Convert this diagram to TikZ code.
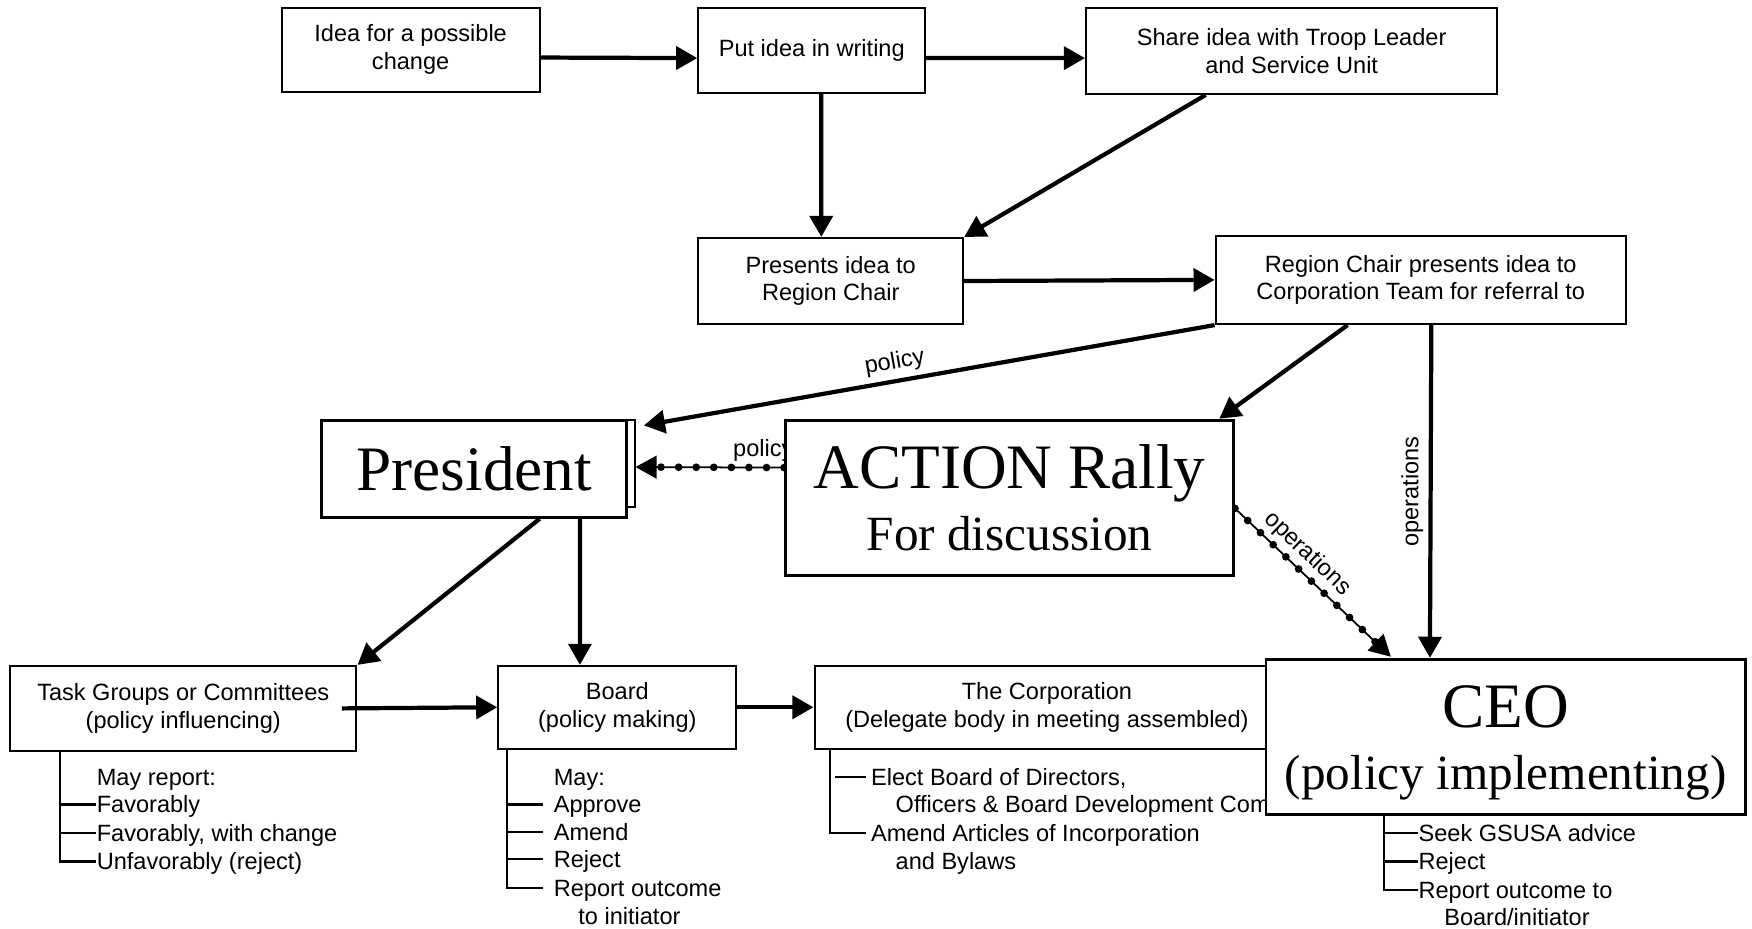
\documentclass[tikz,border=0pt]{standalone}
\usepackage{fontspec}
\setmainfont{Liberation Serif}
\setsansfont{Liberation Sans}
\usetikzlibrary{arrows.meta,calc,backgrounds}
\newcommand{\pxu}{0.011173cm}
\newcommand{\smallsans}{\sffamily\fontsize{6.7}{7.9}\selectfont}
\newcommand{\bigserif}{\rmfamily\fontsize{18}{17.5}\selectfont}
\newcommand{\midserif}{\fontsize{14}{17.5}\selectfont}

\begin{document}
\begin{tikzpicture}[x=\pxu, y=-\pxu,
  box/.style 2 args={draw, line width=0.6pt, minimum width=#1*\pxu, minimum height=#2*\pxu, inner sep=1pt, align=center, font=\smallsans},
  ovl/.style 2 args={draw, fill=white, line width=0.8pt, minimum width=#1*\pxu, minimum height=#2*\pxu, inner sep=0pt, align=center, font=\bigserif},
  arr/.style={line width=1.2pt, -{Triangle[length=6pt,width=6.5pt]}},
  dotarr/.style={line width=0.5pt, -{Triangle[length=6pt,width=6.5pt]},
    postaction={draw, -, shorten >=5pt, line width=2.2pt, dash pattern=on 0pt off 5pt, line cap=round}},
  lbl/.style={font=\smallsans, inner sep=1.5pt},
  lst/.style={line width=0.6pt},
  item/.style={anchor=west, inner sep=0pt, font=\smallsans, text height=4.8pt, text depth=0pt}]
\begin{scope}[on background layer]
  \fill[white] (0,0) rectangle (1568,831);
\end{scope}
\useasboundingbox (0,0) rectangle (1568,831);

% --- upper flow ---
\node[box={231}{75}] (idea) at (367.5,44.5) {Idea for a possible\\change};
\node[box={203}{76}] (write) at (726.5,45) {Put idea in writing};
\node[box={368}{77}] (share) at (1156,45.5) {Share idea with Troop Leader\\and Service Unit};
\node[box={237}{77}] (present) at (743.5,251.5) {Presents idea to\\Region Chair};
\node[box={367}{79}] (region) at (1271.5,250.5) {Region Chair presents idea to\\Corporation Team for referral to};

% --- lower row ---
\node[box={310}{76}] (task) at (164,634) {Task Groups or Committees\\(policy influencing)};
\node[box={213}{74}] (board) at (552.5,633) {Board\\(policy making)};
\node[box={416}{74}] (corp) at (937,633) {The Corporation\\(Delegate body in meeting assembled)};

% --- pasted-over boxes ---
\node[draw, line width=0.5pt, minimum width=100*\pxu, minimum height=78*\pxu] (presold) at (518,415) {};
\node[ovl={273}{87}] (president) at (424.5,419.5) {President};
\node[ovl={401}{139}] (rally) at (903.5,445.5) {ACTION Rally\\{\midserif For discussion}};
\node[ovl={429}{139}] (ceo) at (1347.5,659.5) {\rule{0pt}{15.4pt}CEO\\{\midserif (policy implementing)}};

\begin{scope}[on background layer]
% arrows
\draw[arr] ($(idea.east)+(0,7)$) -- ($(write.west)+(0,7)$);
\draw[arr] ($(write.east)+(0,7)$) -- ($(share.west)+(0,6.5)$);
\draw[arr] ($(write.south)+(8.5,0)$) -- ($(present.north)+(-8.5,0)$);
\draw[arr] ($(share.south west)+(108,0)$) -- (present.north east);
\draw[arr] (present.east) -- (region.west);
\draw[arr] (region.south west) -- node[lbl, pos=0.555, above, sloped] {policy} ($(president.north east)+(14,6)$);
\draw[arr] ($(region.south west)+(119,0)$) -- ($(rally.north east)+(-14,0)$);
\draw[arr] ($(region.south)+(9.5,0)$) -- node[lbl, midway, rotate=90, anchor=south] {operations} ($(ceo.north west)+(148,0)$);
\draw[dotarr] ($(rally.west)+(0,-27)$) -- node[lbl, pos=0.14, above] {policy} ($(presold.east)+(0,3)$);
\draw[dotarr] ($(rally.east)+(0,9.5)$) -- node[lbl, pos=0.39, above, sloped] {operations} ($(ceo.north west)+(113,-1)$);
\draw[arr] ($(president.south)+(58.5,0)$) -- (task.north east);
\draw[arr] ($(president.south)+(94.5,0)$) -- ($(board.north)+(-33.5,0)$);
\draw[arr] ($(task.east)+(-14,0)$) -- (board.west);
\draw[arr] (board.east) -- (corp.west);

% task group list
\coordinate (tgl) at ($(task.south west)+(46,0)$);
\node[item] (tg0) at (86,695) {May report:};
\node[item] (tg1) at (86,720) {Favorably};
\node[item] (tg2) at (86,745.5) {Favorably, with change};
\node[item] (tg3) at (86,771) {Unfavorably (reject)};
\draw[lst] (tgl) |- (tg3.west);
\foreach \r in {tg1,tg2} \draw[lst] (tgl |- \r.west) -- (\r.west);

% board list
\coordinate (bdl) at ($(board.south west)+(9,0)$);
\node[item] (bd0) at (495,695) {May:};
\node[item] (bd1) at (495,720) {Approve};
\node[item] (bd2) at (495,744.5) {Amend};
\node[item] (bd3) at (495,769) {Reject};
\node[item] (bd4) at (495,795) {Report outcome};
\node[item] (bd5) at (517,819.5) {to initiator};
\draw[lst] (bdl) |- ($(bd4.west)+(-9,0)$);
\foreach \r in {bd1,bd2,bd3} \draw[lst] (bdl |- \r.west) -- ($(\r.west)+(-9,0)$);

% corporation list
\coordinate (cpl) at ($(corp.south west)+(15,0)$);
\node[item] (cp1) at (779,695) {Elect Board of Directors,};
\node[item] (cp2) at (801,720) {Officers \& Board Development Committee};
\node[item] (cp3) at (779,745.5) {Amend Articles of Incorporation};
\node[item] (cp4) at (801,771) {and Bylaws};
\draw[lst] (cpl) |- ($(cp3.west)+(-4,0)$);
\draw[lst] ($(cpl |- cp1.west)+(4,0)$) -- ($(cp1.west)+(-4,0)$);

% ceo list
\coordinate (cel) at ($(ceo.south west)+(107,-20)$);
\node[item] (ce1) at (1269,745.5) {Seek GSUSA advice};
\node[item] (ce2) at (1269,771) {Reject};
\node[item] (ce3) at (1269,796.5) {Report outcome to};
\node[item] (ce4) at (1292,821) {Board/initiator};
\draw[lst] (cel) |- (ce3.west);
\foreach \r in {ce1,ce2} \draw[lst] (cel |- \r.west) -- (\r.west);
\end{scope}
\end{tikzpicture}
\end{document}
